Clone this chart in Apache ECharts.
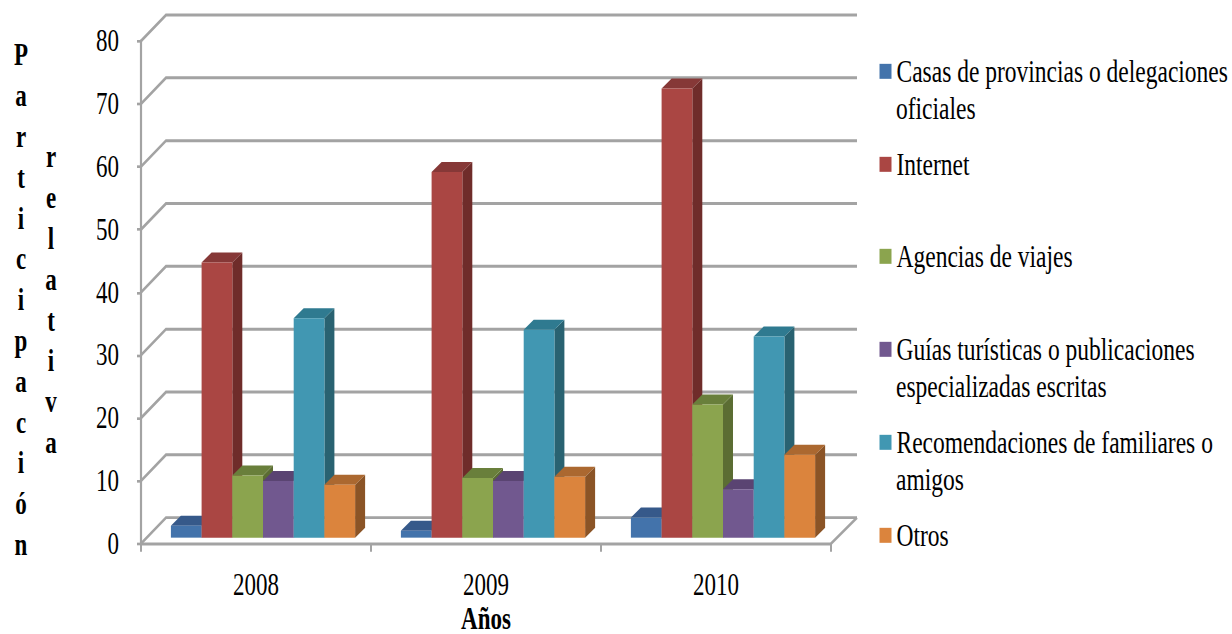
<!DOCTYPE html>
<html lang="es">
<head>
<meta charset="utf-8">
<title>Participación relativa por año</title>
<style>
  html, body { margin: 0; padding: 0; background: #fff; width: 1232px; height: 634px; }
  /* The chart is laid out on a shorter canvas and stretched to full height, giving tall, narrow type. */
  #chart { width: 1232px; height: 475.5px; transform: scaleY(1.3333); transform-origin: 0 0; }
</style>
</head>
<body>
<div id="chart"></div>
<script src="https://cdn.jsdelivr.net/npm/echarts@6/dist/echarts.min.js"></script>
<script>
const STRETCH = 4 / 3;
const years = ['2008', '2009', '2010'];
const yTicks = [0, 10, 20, 30, 40, 50, 60, 70, 80];

const casas = [1.9, 1.1, 3.2];
const internet = [43.8, 58.2, 71.5];
const agencias = [9.9, 9.5, 21.2];
const guias = [9.0, 9.0, 7.7];
const recomendaciones = [34.9, 33.1, 32.0];
const otros = [8.4, 9.7, 13.2];

const names = [
  'Casas de provincias o delegaciones\noficiales',
  'Internet',
  'Agencias de viajes',
  'Guías turísticas o publicaciones\nespecializadas escritas',
  'Recomendaciones de familiares o\namigos',
  'Otros'
];
const values = [casas, internet, agencias, guias, recomendaciones, otros];
const legendRowY = [70, 163, 255, 348, 441, 534];

// front, top and side shade of each column
const shades = [
  ['#4373AB', '#36598A', '#2F4E78'],
  ['#AA4643', '#863837', '#6F2C2A'],
  ['#8BA44E', '#697F3B', '#5B6D33'],
  ['#71588F', '#5A4472', '#4C3A62'],
  ['#4197B2', '#2F7A90', '#296271'],
  ['#DB843D', '#AB6830', '#8B5426']
];

const px = y => y / STRETCH;          // on-screen vertical pixels to layout pixels
const FONT = '"Liberation Serif", "Times New Roman", serif';
const GRID = { left: 141, right: 1232 - 831, top: px(41), bottom: px(634 - 543), outerBoundsMode: 'none' };
const WALL_DX = 25, WALL_DY = px(26);  // depth of the back wall
const FLOOR_DX = 7, FLOOR_DY = px(6);  // columns stand this far inside the floor
const BAR_DX = 10, BAR_DY = px(10);    // depth of one column
const BAR_W = 30.7;

function wallItem(params, api) {
  const rect = params.coordSys;
  const y = api.coord([0, api.value(0)])[1];
  const x0 = rect.x, x1 = rect.x + rect.width;
  const stroke = { fill: 'none', stroke: '#A3A3A3', lineWidth: 2.2 };
  const isFloor = api.value(0) === 0;
  const pts = [[x0, y], [x0 + WALL_DX, y - WALL_DY], [x1 + WALL_DX + 1, y - WALL_DY]];
  const children = [{ type: 'polyline', shape: { points: pts }, style: stroke }];
  if (isFloor) {
    children.push({
      type: 'line',
      shape: { x1: x1, y1: y, x2: x1 + WALL_DX + 1, y2: y - WALL_DY },
      style: stroke
    });
  }
  return { type: 'group', children };
}

function columnItem(seriesIndex) {
  return function (params, api) {
    const cat = api.value(0);
    const base = api.coord([cat, 0]);
    const top = api.coord([cat, api.value(1)]);
    const l = base[0] + FLOOR_DX + (seriesIndex - 3) * BAR_W;
    const r = l + BAR_W;
    const yb = base[1] - FLOOR_DY;
    const yt = top[1] - FLOOR_DY;
    const c = shades[seriesIndex];
    const poly = (points, fill) => ({ type: 'polygon', shape: { points }, style: { fill } });
    return {
      type: 'group',
      children: [
        poly([[r, yb], [r + BAR_DX, yb - BAR_DY], [r + BAR_DX, yt - BAR_DY], [r, yt]], c[2]),
        poly([[l, yt], [l + BAR_DX, yt - BAR_DY], [r + BAR_DX, yt - BAR_DY], [r, yt]], c[1]),
        poly([[l, yb], [r, yb], [r, yt], [l, yt]], c[0])
      ]
    };
  };
}

const chart = echarts.init(document.getElementById('chart'), null, { renderer: 'svg' });

const columnSeries = names.map((name, i) => ({
  name,
  type: 'custom',
  renderItem: columnItem(i),
  encode: { x: 0, y: 1 },
  data: years.map((year, k) => [k, values[i][k]]),
  itemStyle: { color: shades[i][0] },
  clip: false,
  z: 3 + i
}));

const verticalTitle = (word, x, centerY) => ({
  type: 'text',
  x,
  y: px(centerY),
  style: {
    text: word.split('').join('\n'),
    font: 'bold 23px ' + FONT,
    fill: '#000',
    lineHeight: px(40.8),
    align: 'center',
    verticalAlign: 'middle'
  }
});

const legendWraps = names
  .map((n, i) => ({ parts: n.split('\n'), i }))
  .filter(o => o.parts.length > 1)
  .map(o => ({
    type: 'text',
    x: 896,
    y: px(legendRowY[o.i] + 38),
    style: { text: o.parts[1], font: '23.5px ' + FONT, fill: '#000', align: 'left', verticalAlign: 'middle' }
  }));

chart.setOption({
  backgroundColor: '#fff',
  animation: false,
  tooltip: { show: false },
  grid: GRID,
  xAxis: {
    type: 'category',
    data: years,
    boundaryGap: true,
    name: 'Años',
    nameLocation: 'middle',
    nameMoveOverlap: false,
    nameGap: 47,
    nameTextStyle: { fontFamily: FONT, fontSize: 23, fontWeight: 'bold', color: '#000', lineHeight: 18 },
    axisLine: { lineStyle: { color: '#A3A3A3', width: 2.2 } },
    axisTick: { show: true, alignWithLabel: false, length: 6, lineStyle: { color: '#A3A3A3', width: 2 } },
    axisLabel: { fontFamily: FONT, fontSize: 23, color: '#000', margin: 19 }
  },
  yAxis: {
    type: 'value',
    min: 0,
    max: 80,
    interval: 10,
    axisLine: { show: true, lineStyle: { color: '#A3A3A3', width: 2.2 } },
    axisTick: { show: true, length: 4, lineStyle: { color: '#A3A3A3', width: 2 } },
    axisLabel: { fontFamily: FONT, fontSize: 23, color: '#000', margin: 22 },
    splitLine: { show: false }
  },
  legend: names.map((name, i) => ({
    data: [name],
    orient: 'vertical',
    left: 879.5,
    top: px(legendRowY[i]) - 11,
    padding: 0,
    itemGap: 0,
    itemWidth: 12,
    itemHeight: px(15),
    icon: 'rect',
    selectedMode: false,
    formatter: n => n.split('\n')[0],
    textStyle: { fontFamily: FONT, fontSize: 23.5, color: '#000', height: 22, lineHeight: 22 }
  })),
  graphic: [
    verticalTitle('Participación', 21, 300),
    verticalTitle('relativa', 51, 300)
  ].concat(legendWraps),
  series: [{
    type: 'custom',
    renderItem: wallItem,
    encode: { y: 0 },
    data: yTicks.map(t => [t]),
    silent: true,
    clip: false,
    z: 1
  }].concat(columnSeries)
});
</script>
</body>
</html>
